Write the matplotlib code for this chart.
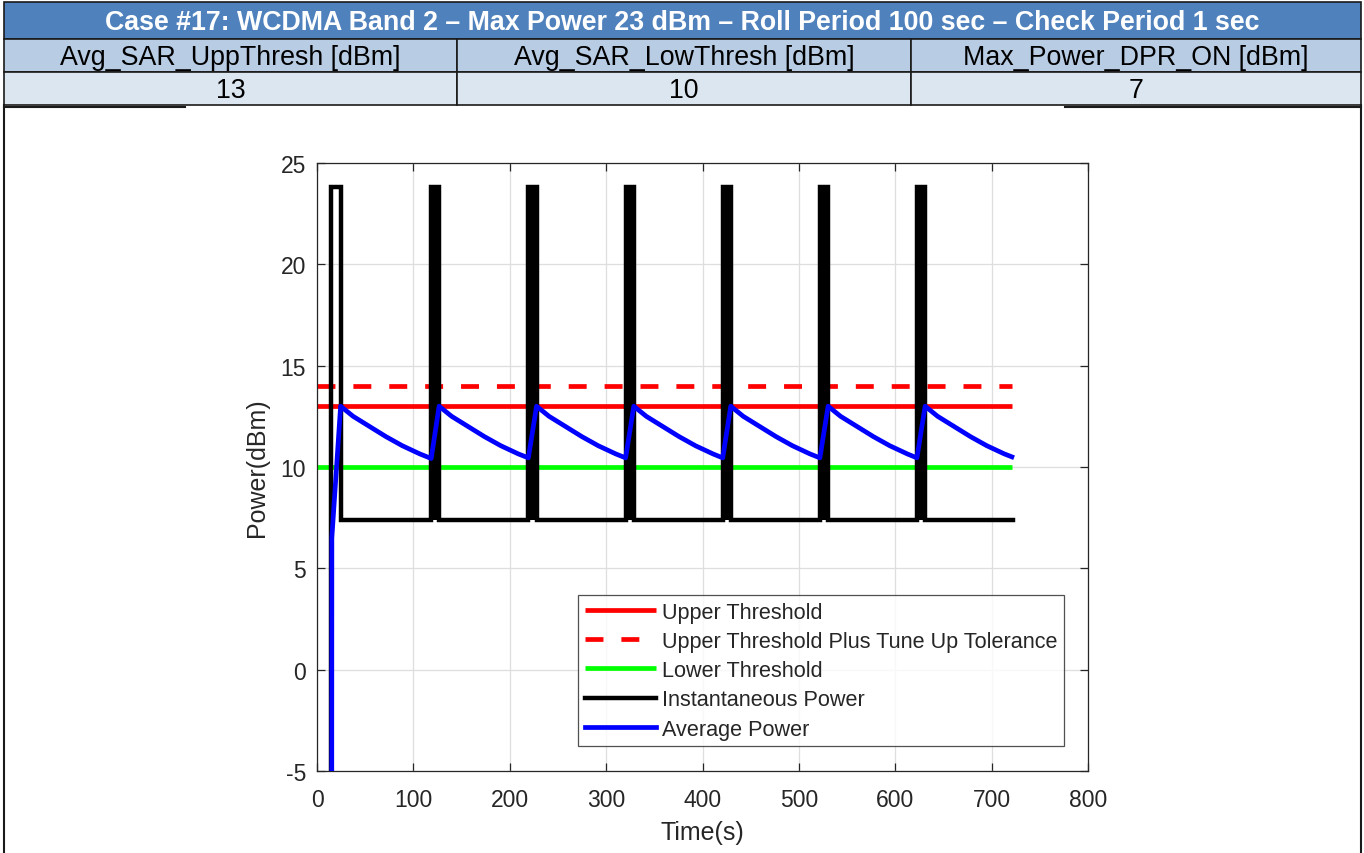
import matplotlib
matplotlib.use("Agg")
import matplotlib.pyplot as plt
from matplotlib.patches import Rectangle

# ---------------- data ----------------
header_title = "Case #17: WCDMA Band 2 \u2013 Max Power 23 dBm \u2013 Roll Period 100 sec \u2013 Check Period 1 sec"
header_cols = ["Avg_SAR_UppThresh [dBm]", "Avg_SAR_LowThresh [dBm]", "Max_Power_DPR_ON [dBm]"]
header_vals = ["13", "10", "7"]

upper_threshold = 13.0
upper_tol = 14.0
lower_threshold = 10.0
thresh_time = [0, 721]

inst_time = [15.0, 15.0, 25.0, 25.0,
             118.5, 118.5, 126.7, 126.7,
             219.3, 219.3, 227.8, 227.8,
             320.2, 320.2, 328.7, 328.7,
             421.0, 421.0, 429.3, 429.3,
             521.8, 521.8, 530.3, 530.3,
             622.5, 622.5, 631.0, 631.0,
             722.0]
inst_power = [-40.0, 23.8, 23.8, 7.4,
              7.4, 23.8, 23.8, 7.4,
              7.4, 23.8, 23.8, 7.4,
              7.4, 23.8, 23.8, 7.4,
              7.4, 23.8, 23.8, 7.4,
              7.4, 23.8, 23.8, 7.4,
              7.4, 23.8, 23.8, 7.4,
              7.4]
spike_start = [118.5, 219.3, 320.2, 421.0, 521.8, 622.5]
spike_end = [126.7, 227.8, 328.7, 429.3, 530.3, 631.0]
spike_low = 7.4
spike_high = 23.8

avg_time = [15.0, 15.4, 24.5, 37.5, 54.5, 71.5, 88.5, 106.5, 118.5,
            126.7, 139.7, 156.7, 173.7, 190.7, 208.7, 219.3,
            227.8, 240.8, 257.8, 274.8, 291.8, 309.8, 320.2,
            328.7, 341.7, 358.7, 375.7, 392.7, 410.7, 421.0,
            429.3, 442.3, 459.3, 476.3, 493.3, 511.3, 521.8,
            530.3, 543.3, 560.3, 577.3, 594.3, 612.3, 622.5,
            631.0, 644.0, 661.0, 678.0, 695.0, 713.0, 721.0]
avg_power = [-40.0, 6.5, 13.0, 12.5, 12.0, 11.5, 11.05, 10.65, 10.42,
             13.0, 12.5, 12.0, 11.5, 11.05, 10.65, 10.45,
             13.0, 12.5, 12.0, 11.5, 11.05, 10.65, 10.45,
             13.0, 12.5, 12.0, 11.5, 11.05, 10.65, 10.45,
             13.0, 12.5, 12.0, 11.5, 11.05, 10.65, 10.45,
             13.0, 12.5, 12.0, 11.5, 11.05, 10.65, 10.45,
             13.0, 12.5, 12.0, 11.5, 11.05, 10.65, 10.5]

xticks = [0, 100, 200, 300, 400, 500, 600, 700, 800]
yticks = [-5, 0, 5, 10, 15, 20, 25]

# ---------------- figure ----------------
W, H = 1364, 854
plt.rcParams['font.family'] = ['Liberation Sans', 'DejaVu Sans']
plt.rcParams['axes.unicode_minus'] = False
fig = plt.figure(figsize=(W / 100, H / 100), dpi=100)
fig.patch.set_facecolor('white')

# background layer in pixel coordinates for the header table and frame
bg = fig.add_axes([0, 0, 1, 1], zorder=0)
bg.set_xlim(0, W)
bg.set_ylim(H, 0)
bg.axis('off')

edge = '#1a1a1a'
col_x = [4, 457, 911, 1361]
row_y = [3, 40, 73, 106]
bg.add_patch(Rectangle((col_x[0], row_y[0]), col_x[-1] - col_x[0], row_y[1] - row_y[0],
                       facecolor='#4F81BD', edgecolor=edge, lw=1.2))
for i in range(3):
    bg.add_patch(Rectangle((col_x[i], row_y[1]), col_x[i + 1] - col_x[i], row_y[2] - row_y[1],
                           facecolor='#B8CCE4', edgecolor=edge, lw=1.2))
    bg.add_patch(Rectangle((col_x[i], row_y[2]), col_x[i + 1] - col_x[i], row_y[3] - row_y[2],
                           facecolor='#DCE6F1', edgecolor=edge, lw=1.2))
    cx = (col_x[i] + col_x[i + 1]) / 2
    bg.text(cx, (row_y[1] + row_y[2]) / 2 + 1.5, header_cols[i], ha='center', va='center',
            fontsize=19.3, color='black')
    bg.text(cx, (row_y[2] + row_y[3]) / 2 + 1.5, header_vals[i], ha='center', va='center',
            fontsize=19.3, color='black')
bg.text((col_x[0] + col_x[-1]) / 2, (row_y[0] + row_y[1]) / 2 + 1, header_title,
        ha='center', va='center', fontsize=19.3, fontweight='bold', color='white')
# outer frame pieces
bg.plot([4, 4], [106, H], color=edge, lw=1.5)
bg.plot([1361, 1361], [106, H], color=edge, lw=1.5)
bg.plot([4, 185], [108, 108], color=edge, lw=1.5)
bg.plot([1065, 1361], [108, 108], color=edge, lw=1.5)

# ---------------- main axes ----------------
ax_l, ax_r, ax_t, ax_b = 317, 1088, 164, 772
ax = fig.add_axes([ax_l / W, 1 - ax_b / H, (ax_r - ax_l) / W, (ax_b - ax_t) / H], zorder=2)
ax.set_xlim(0, 800)
ax.set_ylim(-5, 25)
ax.set_xticks(xticks)
ax.set_yticks(yticks)
ax.grid(True, color='#dedede', lw=0.9)
ax.set_axisbelow(True)
for s in ax.spines.values():
    s.set_color('#262626')
    s.set_linewidth(0.9)
ax.tick_params(direction='in', top=True, right=True, length=6, width=0.9,
               colors='#262626', labelsize=16.5)
ax.tick_params(axis='x', pad=12)
ax.tick_params(axis='y', pad=8)

lw = 3.4
ax.plot(thresh_time, [upper_threshold] * 2, color='#ff0000', lw=lw, label='Upper Threshold',
        solid_capstyle='butt', zorder=2)
ax.plot(thresh_time, [upper_tol] * 2, color='#ff0000', lw=lw, ls=(0, (3.8, 3.8)),
        label='Upper Threshold Plus Tune Up Tolerance', dash_capstyle='butt', zorder=2)
ax.plot(thresh_time, [lower_threshold] * 2, color='#00ff00', lw=lw, label='Lower Threshold',
        solid_capstyle='butt', zorder=2)
ax.plot(inst_time, inst_power, color='black', lw=3.2, label='Instantaneous Power',
        solid_joinstyle='miter', zorder=2.5)
for s0, s1 in zip(spike_start, spike_end):
    ax.fill_between([s0, s1], [spike_low] * 2, [spike_high] * 2, color='black', lw=0, zorder=2.5)
ax.plot(avg_time, avg_power, color='#0000ff', lw=lw, label='Average Power', zorder=3)

ax.set_xlabel('Time(s)', fontsize=18, color='#262626', labelpad=7)
ax.set_ylabel('Power(dBm)', fontsize=18, color='#262626', labelpad=8)

leg = ax.legend(loc='lower right', bbox_to_anchor=(0.9689, 0.0411), borderaxespad=0,
                fontsize=15.6, frameon=True, fancybox=False, handlelength=3.3,
                handletextpad=0.27, labelspacing=0.38, borderpad=0.3)
leg.get_frame().set_edgecolor('#262626')
leg.get_frame().set_linewidth(0.9)
leg.set_zorder(5)
for t in leg.get_texts():
    t.set_color('#262626')

fig.savefig('out.png', dpi=100)
